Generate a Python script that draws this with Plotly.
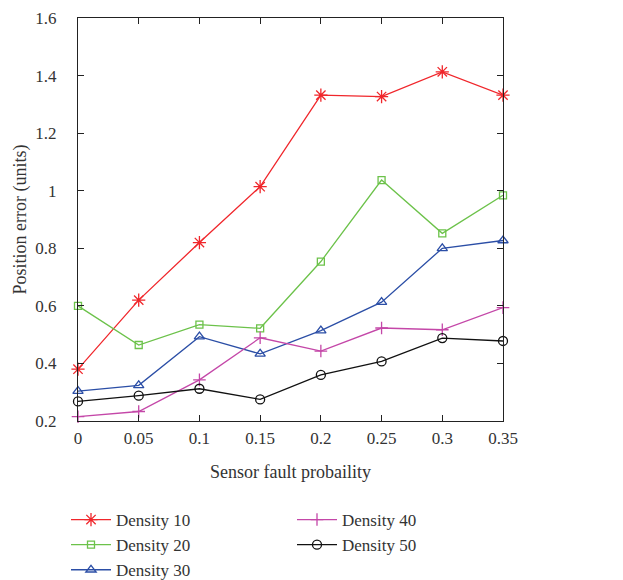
import plotly.graph_objects as go

x_vals = [0, 0.05, 0.1, 0.15, 0.2, 0.25, 0.3, 0.35]
x_labels = ["0", "0.05", "0.1", "0.15", "0.2", "0.25", "0.3", "0.35"]
density10 = [0.38, 0.62, 0.82, 1.014, 1.332, 1.327, 1.413, 1.332]
density20 = [0.60, 0.464, 0.535, 0.522, 0.754, 1.037, 0.852, 0.984]
density30 = [0.304, 0.324, 0.493, 0.433, 0.514, 0.613, 0.80, 0.827]
density40 = [0.215, 0.233, 0.343, 0.489, 0.443, 0.523, 0.517, 0.594]
density50 = [0.268, 0.288, 0.312, 0.275, 0.360, 0.407, 0.488, 0.478]

names = ["Density 10", "Density 20", "Density 30", "Density 40", "Density 50"]
series = [density10, density20, density30, density40, density50]
colors = ["#f0262b", "#6cc24a", "#2b4ea6", "#c447a8", "#111111"]
symbols = ["asterisk-open", "square-open", "triangle-up-open", "cross-thin-open", "circle-open"]
sizes = [11, 7, 9, 9, 9]
legends = ["legend", "legend", "legend", "legend2", "legend2"]

FONT = "Liberation Serif"

fig = go.Figure()
for n, s, c, sym, sz, lg in zip(names, series, colors, symbols, sizes, legends):
    fig.add_trace(go.Scatter(
        x=x_vals, y=s, name=n, mode="lines+markers",
        line=dict(color=c, width=1.3),
        marker=dict(symbol=sym, size=sz, color=c, line=dict(color=c, width=1.3)),
        legend=lg, cliponaxis=False,
    ))

axis_common = dict(
    showline=True, linecolor="#222", linewidth=1.3, mirror="allticks",
    ticks="inside", ticklen=6, tickcolor="#222", tickwidth=1.3,
    showgrid=False, zeroline=False, ticklabeloverflow="allow",
    tickfont=dict(family=FONT, size=17, color="#333"),
)

# page has an 8px body margin; figure coordinates = page - 8
W, H = 615, 572
PL, PR, PT, PB = 70, 495, 10, 413

def px_to_paper_x(px):
    return (px - PL) / (PR - PL)

def px_to_paper_y(py):
    return (PB - py) / (PB - PT)

fig.update_layout(
    width=W, height=H,
    margin=dict(l=PL, r=W - PR, t=PT, b=H - PB, autoexpand=False),
    paper_bgcolor="white", plot_bgcolor="white",
    font=dict(family=FONT, size=17, color="#333"),
    xaxis=dict(range=[0, 0.35], tickvals=x_vals, ticktext=x_labels, ticklabelstandoff=1,
               title=dict(text="Sensor fault probaility", font=dict(family=FONT, size=18, color="#333"), standoff=18),
               **axis_common),
    yaxis=dict(range=[0.2, 1.6], dtick=0.2, tick0=0.2, ticklabelstandoff=17,
               title=dict(text="Position error (units)", font=dict(family=FONT, size=18, color="#333"), standoff=3),
               **axis_common),
    legend=dict(x=px_to_paper_x(58), y=px_to_paper_y(494),
                xanchor="left", yanchor="top", font=dict(family=FONT, size=17, color="#333"),
                bgcolor="rgba(0,0,0,0)", itemwidth=40, tracegroupgap=0),
    legend2=dict(x=px_to_paper_x(284), y=px_to_paper_y(494),
                 xanchor="left", yanchor="top", font=dict(family=FONT, size=17, color="#333"),
                 bgcolor="rgba(0,0,0,0)", itemwidth=40, tracegroupgap=0),
    showlegend=True,
)

fig.write_html("out.html")
